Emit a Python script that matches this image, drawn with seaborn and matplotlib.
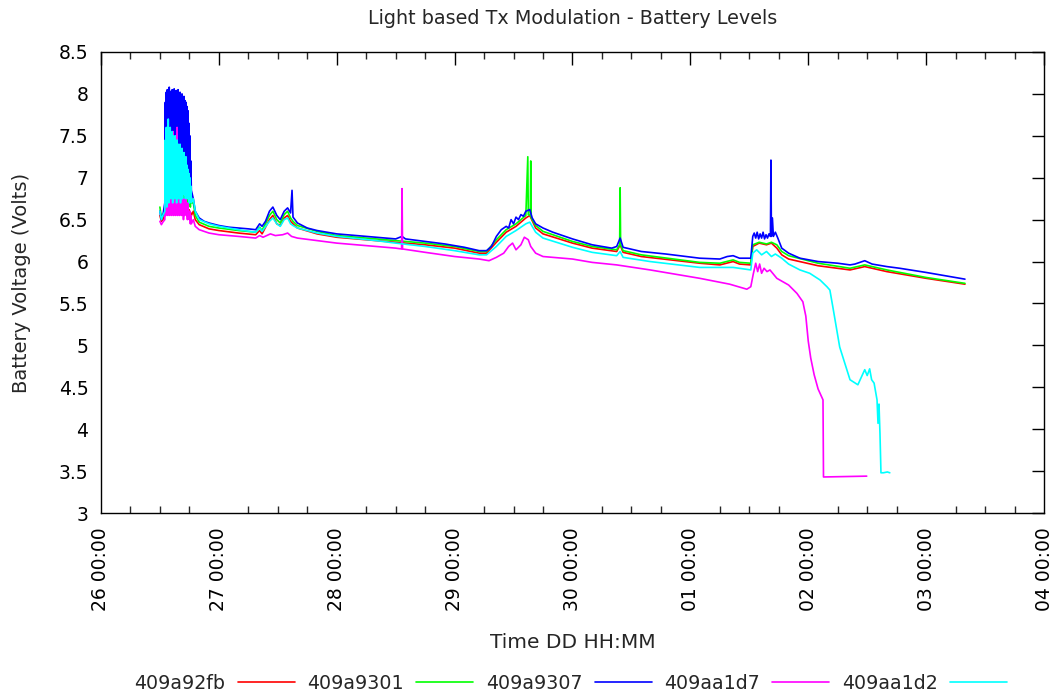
import numpy as np
import pandas as pd
import matplotlib
matplotlib.use("Agg")
import matplotlib.pyplot as plt
import matplotlib.dates as mdates
from matplotlib.ticker import MultipleLocator, FuncFormatter
import seaborn as sns

# ---------------- data (hours since "26 00:00") ----------------
series_names = ["409a92fb", "409a9301", "409a9307", "409aa1d7", "409aa1d2"]
series_colors = ["#ff0000", "#00ff00", "#0000ff", "#ff00ff", "#00ffff"]

pre_hours = [12.0, 12.3, 12.6]

noise_hours = [13.0, 13.1, 13.2, 13.3, 13.4, 13.5, 13.6, 13.7, 13.8, 13.9,
               14.0, 14.1, 14.2, 14.3, 14.4, 14.5, 14.6, 14.7, 14.8, 14.9,
               15.0, 15.1, 15.2, 15.3, 15.4, 15.5, 15.6, 15.7, 15.8, 15.9,
               16.0, 16.1, 16.2, 16.3, 16.4, 16.5, 16.6, 16.7, 16.8, 16.9,
               17.0, 17.1, 17.2, 17.3, 17.4, 17.5, 17.6, 17.7, 17.8, 17.9,
               18.0, 18.1, 18.2, 18.3, 18.4]

# 409a92fb (red)
red_pre = [6.55, 6.48, 6.50]
red_noise = [6.55, 6.75, 6.60, 6.80, 6.62, 6.85, 6.60, 6.78, 6.65, 6.82,
             6.60, 6.80, 6.65, 6.75, 6.60, 6.82, 6.62, 6.78, 6.60, 6.80,
             6.65, 6.75, 6.60, 6.80, 6.62, 6.76, 6.60, 6.75, 6.65, 6.72,
             6.60, 6.75, 6.62, 6.70, 6.60, 6.72, 6.62, 6.70, 6.60, 6.68,
             6.60, 6.70, 6.58, 6.68, 6.60, 6.66, 6.56, 6.64, 6.55, 6.62,
             6.55, 6.60, 6.52, 6.58, 6.55]
red_hours = [18.8, 19.2, 20, 22, 24, 28, 31.5, 32.3, 32.8, 34.3, 35, 35.8, 36.5, 37.3, 38, 38.6,
             39.1, 40, 44, 48, 56, 60, 66, 72, 77, 78.5, 80.5, 82.5, 84.5, 86.5, 87.3, 88.5,
             90, 96, 100, 105, 105.7, 106.3, 110, 121.9, 126, 128.7, 130, 132.3, 132.7, 134,
             135.5, 136.5, 137.6, 138.6, 140, 146, 152.5, 155.5, 160, 168, 175.9]
red_volts = [6.60, 6.50, 6.44, 6.39, 6.37, 6.34, 6.32, 6.37, 6.33, 6.50, 6.55, 6.45, 6.43, 6.52, 6.55, 6.48,
             6.45, 6.40, 6.33, 6.29, 6.25, 6.23, 6.20, 6.16, 6.10, 6.10, 6.23, 6.35, 6.42, 6.52, 6.55, 6.40,
             6.33, 6.22, 6.16, 6.12, 6.20, 6.11, 6.06, 5.98, 5.96, 6.00, 5.97, 5.96, 6.18, 6.22,
             6.20, 6.22, 6.16, 6.08, 6.03, 5.95, 5.90, 5.94, 5.88, 5.80, 5.73]

# 409a9301 (green)
green_pre = [6.65, 6.52, 6.55]
green_noise = [6.60, 6.90, 6.65, 7.00, 6.70, 6.95, 6.65, 7.00, 6.75, 6.92,
               6.70, 7.00, 6.75, 6.95, 6.70, 6.98, 6.72, 6.95, 6.70, 6.90,
               6.75, 6.95, 6.70, 6.92, 6.72, 6.90, 6.70, 6.95, 6.75, 6.88,
               6.70, 6.90, 6.72, 6.88, 6.70, 6.90, 6.75, 6.85, 6.70, 6.88,
               6.72, 6.85, 6.70, 6.88, 6.72, 6.85, 6.70, 6.90, 6.68, 6.85,
               6.70, 6.90, 6.65, 6.92, 6.70]
green_hours = [18.8, 19.2, 20, 22, 24, 28, 31.5, 32.3, 32.8, 34.3, 35, 35.8, 36.5, 37.3, 38, 38.6,
               39.1, 40, 44, 48, 56, 60, 66, 72, 77, 78.5, 80.5, 82.5, 84.5, 86.5, 86.9, 87.0,
               87.4, 87.5, 87.6, 88.5, 90, 96, 100, 105, 105.6, 105.7, 105.8, 106.3, 110, 121.9,
               126, 128.7, 130, 132.3, 132.7, 134, 135.5, 136.5, 137.6, 138.6, 140, 146, 152.5,
               155.5, 160, 168, 175.9]
green_volts = [6.70, 6.55, 6.47, 6.42, 6.40, 6.37, 6.35, 6.41, 6.37, 6.55, 6.60, 6.50, 6.46, 6.56, 6.60, 6.52,
               6.48, 6.43, 6.36, 6.31, 6.27, 6.25, 6.22, 6.18, 6.12, 6.12, 6.26, 6.38, 6.45, 6.55, 7.25, 6.56,
               6.55, 7.20, 6.52, 6.43, 6.36, 6.24, 6.18, 6.14, 6.20, 6.88, 6.20, 6.13, 6.08, 5.99,
               5.98, 6.02, 5.99, 5.98, 6.20, 6.23, 6.21, 6.23, 6.20, 6.12, 6.07, 5.98, 5.92,
               5.96, 5.90, 5.81, 5.74]

# 409a9307 (blue)
blue_pre = [6.60, 6.50, 6.55]
blue_noise = [6.70, 7.90, 6.85, 8.02, 7.00, 8.05, 6.90, 7.98, 7.20, 8.08,
              6.95, 8.03, 7.10, 7.96, 6.90, 8.05, 7.30, 8.00, 7.00, 8.06,
              7.15, 7.95, 6.95, 8.04, 7.25, 8.00, 7.05, 8.05, 7.20, 7.97,
              6.95, 8.02, 7.30, 7.98, 7.05, 8.00, 7.15, 7.95, 7.00, 7.97,
              7.25, 7.92, 7.05, 7.90, 7.30, 7.85, 7.00, 7.80, 7.15, 7.65,
              6.95, 7.50, 6.90, 7.20, 6.85]
blue_hours = [18.8, 19.2, 20, 21, 22, 24, 26, 28, 30, 31.5, 32.3, 32.8, 33.5, 34.3, 35, 35.8,
              36.5, 37.3, 38.0, 38.6, 38.9, 39.1, 40, 42, 44, 48, 52, 56, 60, 61.3, 62, 66,
              70, 74, 77, 78.5, 79.5, 80.5, 81.5, 82.5, 83.0, 83.5, 84.0, 84.5, 85.0, 85.5, 86.0,
              86.5, 87.3, 87.8, 88.5, 90, 92, 96, 100, 104, 105, 105.7, 106.3, 110, 115, 121.9,
              126, 127.5, 128.7, 130, 132.3, 132.7, 133.0, 133.3, 133.6, 133.9, 134.2, 134.5,
              134.8, 135.1, 135.4, 135.7, 136.0, 136.3, 136.4, 136.5, 136.7, 136.9, 137.3,
              137.8, 138.6, 140, 142.3, 146, 150, 152.5, 153.5, 155.5, 157, 160, 162.6, 168,
              172, 175.9]
blue_volts = [6.75, 6.60, 6.52, 6.48, 6.46, 6.43, 6.41, 6.40, 6.39, 6.38, 6.45, 6.42, 6.48, 6.60, 6.65, 6.55,
              6.50, 6.60, 6.64, 6.58, 6.85, 6.53, 6.46, 6.40, 6.37, 6.33, 6.31, 6.29, 6.27, 6.30, 6.27, 6.24,
              6.21, 6.17, 6.13, 6.13, 6.18, 6.30, 6.38, 6.42, 6.40, 6.50, 6.45, 6.53, 6.50, 6.56, 6.54,
              6.60, 6.62, 6.52, 6.45, 6.40, 6.35, 6.27, 6.20, 6.16, 6.18, 6.28, 6.17, 6.12, 6.09, 6.04,
              6.03, 6.06, 6.07, 6.04, 6.04, 6.30, 6.34, 6.28, 6.35, 6.27, 6.33, 6.28,
              6.35, 6.27, 6.32, 6.28, 6.33, 6.30, 7.21, 6.30, 6.52, 6.30, 6.35,
              6.28, 6.16, 6.10, 6.04, 6.00, 5.98, 5.96, 5.97, 6.01, 5.97, 5.94, 5.92, 5.87,
              5.83, 5.79]

# 409aa1d7 (magenta)
magenta_pre = [6.48, 6.44, 6.47]
magenta_noise = [6.50, 6.75, 6.55, 6.80, 6.60, 6.70, 6.55, 6.85, 6.60, 6.75,
                 6.55, 6.80, 6.60, 6.70, 6.55, 6.85, 6.60, 7.55, 6.55, 6.80,
                 6.60, 6.75, 6.55, 6.80, 6.60, 7.60, 6.55, 6.75, 6.60, 6.80,
                 6.55, 6.70, 6.60, 6.80, 6.55, 6.75, 6.60, 6.70, 6.50, 6.75,
                 6.55, 6.70, 6.60, 6.75, 6.55, 6.65, 6.50, 6.70, 6.55, 6.60,
                 6.50, 6.60, 6.45, 6.55, 6.45]
magenta_hours = [18.8, 19.2, 20, 22, 24, 28, 31.5, 32.3, 33, 34.5, 35.5, 37, 38, 38.8, 40, 44,
                 48, 56, 60, 61.2, 61.3, 61.4, 66, 72, 77, 79, 80.5, 82, 83, 83.8, 84.5, 85.5,
                 86.2, 87, 87.5, 88.5, 90, 96, 100, 105, 111.8, 121.9, 128, 131.5, 132.3, 132.8,
                 133.3, 133.7, 134.1, 134.5, 135.0, 135.6, 136.2, 137.6, 140, 141.7, 142.9, 143.5,
                 144.0, 144.5, 145.2, 146.0, 147.0, 147.1, 155.9]
magenta_volts = [6.50, 6.42, 6.38, 6.34, 6.32, 6.30, 6.28, 6.31, 6.29, 6.33, 6.31, 6.32, 6.34, 6.30, 6.28, 6.25,
                 6.22, 6.18, 6.16, 6.15, 6.87, 6.15, 6.11, 6.06, 6.03, 6.01, 6.05, 6.10, 6.18, 6.22, 6.14, 6.20,
                 6.29, 6.26, 6.18, 6.10, 6.06, 6.03, 5.99, 5.96, 5.90, 5.80, 5.73, 5.67, 5.70, 5.85,
                 5.98, 5.88, 5.97, 5.86, 5.92, 5.88, 5.90, 5.80, 5.72, 5.62, 5.52, 5.35,
                 5.05, 4.85, 4.65, 4.48, 4.35, 3.43, 3.44]

# 409aa1d2 (cyan)
cyan_pre = [6.60, 6.50, 6.55]
cyan_noise = [6.60, 7.45, 6.70, 7.60, 6.65, 7.55, 6.80, 7.70, 6.70, 7.50,
              6.85, 7.60, 6.75, 7.45, 6.90, 7.55, 6.70, 7.50, 6.80, 7.45,
              6.75, 7.50, 6.85, 7.40, 6.70, 7.45, 6.90, 7.40, 6.75, 7.35,
              6.85, 7.40, 6.70, 7.30, 6.80, 7.35, 6.75, 7.25, 6.90, 7.30,
              6.80, 7.20, 6.75, 7.25, 6.85, 7.15, 6.75, 7.10, 6.80, 7.05,
              6.70, 7.00, 6.75, 6.90, 6.70]
cyan_hours = [18.8, 19.2, 20, 22, 24, 28, 31.5, 32.3, 32.8, 34.3, 35, 35.8, 36.5, 37.3, 38, 38.6,
              39.1, 40, 44, 48, 56, 60, 66, 72, 77, 78.5, 80.5, 82.5, 84.5, 86.5, 87.3, 88.5,
              90, 96, 100, 105, 105.7, 106.3, 111.8, 121.9, 128.7, 132.3, 132.7, 133.5, 134.5,
              135.5, 136.5, 137.3, 138.6, 140, 142.3, 144.3, 146.4, 147.8, 148.4, 149.0, 150.4,
              152.5, 154.1, 154.8, 155.5, 156.0, 156.5, 156.9, 157.4, 158.0, 158.2, 158.4,
              158.6, 158.8, 159.3, 160.1, 160.6]
cyan_volts = [6.75, 6.60, 6.50, 6.45, 6.42, 6.38, 6.35, 6.40, 6.36, 6.48, 6.52, 6.45, 6.42, 6.50, 6.52, 6.45,
              6.43, 6.40, 6.34, 6.30, 6.25, 6.22, 6.18, 6.13, 6.08, 6.08, 6.18, 6.30, 6.37, 6.45, 6.47, 6.35,
              6.28, 6.17, 6.11, 6.07, 6.12, 6.05, 6.00, 5.93, 5.93, 5.90, 6.10, 6.14, 6.08,
              6.12, 6.06, 6.09, 6.04, 5.97, 5.90, 5.86, 5.78, 5.70, 5.66, 5.46, 4.98,
              4.59, 4.53, 4.62, 4.71, 4.64, 4.72, 4.59, 4.55, 4.35, 4.07, 4.30,
              3.95, 3.48, 3.48, 3.49, 3.48]

# ---------------- build long-form table ----------------
base = pd.Timestamp("2013-11-26 00:00")
parts = []
all_series = [
    (red_pre, red_noise, red_hours, red_volts),
    (green_pre, green_noise, green_hours, green_volts),
    (blue_pre, blue_noise, blue_hours, blue_volts),
    (magenta_pre, magenta_noise, magenta_hours, magenta_volts),
    (cyan_pre, cyan_noise, cyan_hours, cyan_volts),
]
for name, (pre, noise, hrs, vol) in zip(series_names, all_series):
    h = list(pre_hours) + list(noise_hours) + list(hrs)
    v = list(pre) + list(noise) + list(vol)
    assert len(h) == len(v), name
    parts.append(pd.DataFrame({
        "time": base + pd.to_timedelta(np.array(h), unit="h"),
        "volts": v,
        "sensor": name,
    }))
df = pd.concat(parts, ignore_index=True)

# ---------------- plot ----------------
sns.set_style("white")
plt.rcParams["font.family"] = ["DejaVu Sans"]

fig = plt.figure(figsize=(10.55, 6.96), dpi=100)
ax = fig.add_axes([0.0957, 0.2629, 0.8939, 0.6624])

sns.lineplot(data=df, x="time", y="volts", hue="sensor", hue_order=series_names,
             palette=series_colors, estimator=None, sort=False, linewidth=1.2,
             ax=ax, legend=True)

ax.set_xlim(base, base + pd.Timedelta(days=8))
ax.set_ylim(3, 8.5)
ax.yaxis.set_major_locator(MultipleLocator(0.5))
ax.yaxis.set_major_formatter(FuncFormatter(lambda v, p: f"{v:g}"))
ax.xaxis.set_major_locator(mdates.DayLocator())
ax.xaxis.set_minor_locator(mdates.HourLocator(byhour=[6, 12, 18]))
ax.xaxis.set_major_formatter(mdates.DateFormatter("%d %H:%M"))

for lab in ax.get_xticklabels():
    lab.set_rotation(90)

ax.tick_params(axis="both", which="major", direction="in", length=9, width=1,
               top=True, right=True, labelsize=13.5, colors="black")
ax.tick_params(axis="x", which="major", pad=10)
ax.tick_params(axis="y", which="major", pad=9)
ax.tick_params(axis="x", which="minor", direction="in", length=5, width=1,
               top=True, bottom=True)
for s in ax.spines.values():
    s.set_color("black")
    s.set_linewidth(1.0)

ax.set_xlabel("Time DD HH:MM", fontsize=14.5, labelpad=16)
ax.set_ylabel("Battery Voltage (Volts)", fontsize=14, labelpad=20)
ax.set_title("Light based Tx Modulation - Battery Levels", fontsize=13.8, pad=20)

handles, labels = ax.get_legend_handles_labels()
ax.get_legend().remove()
fig.legend(handles, labels, loc="center", bbox_to_anchor=(0.541, 0.018), ncol=5,
           frameon=False, markerfirst=False, fontsize=13.7, handlelength=3.0,
           columnspacing=0.65, handletextpad=0.65)

fig.savefig("out.png", dpi=100)
